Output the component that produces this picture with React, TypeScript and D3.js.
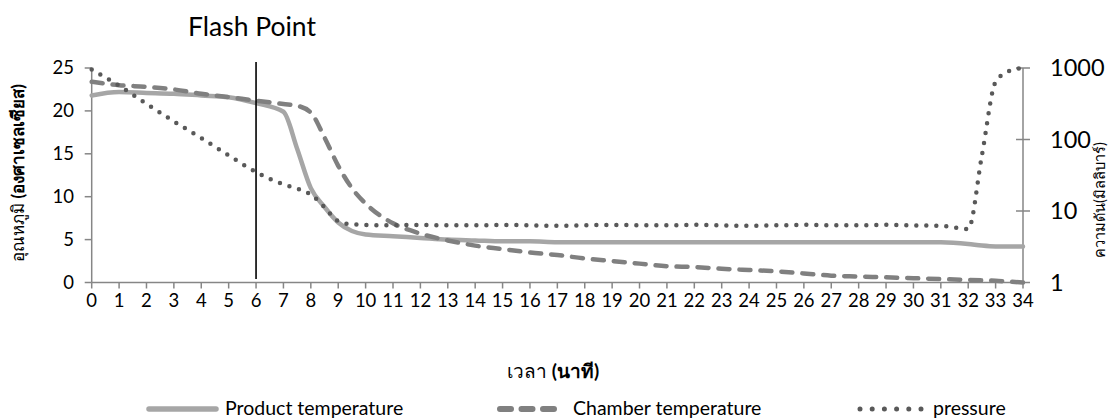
import React, { useEffect, useRef } from 'react';
import * as d3 from 'd3';

// time in minutes (half steps where the curves turn fast)
const times = [0, 1, 2, 3, 4, 5, 6, 7, 7.5, 8, 8.5, 9, 9.5, 10, 11, 12, 13, 14, 15, 16, 17, 18, 19, 20, 21, 22, 23, 24, 25, 26, 27, 28, 29, 30, 31, 32, 32.5, 33, 33.5, 34];
const productTemp = [21.8, 22.2, 22.1, 22.0, 21.8, 21.6, 20.9, 19.9, 15.6, 11.0, 8.8, 7.0, 6.0, 5.6, 5.4, 5.2, 5.0, 4.9, 4.8, 4.8, 4.7, 4.7, 4.7, 4.7, 4.7, 4.7, 4.7, 4.7, 4.7, 4.7, 4.7, 4.7, 4.7, 4.7, 4.7, 4.5, 4.3, 4.2, 4.2, 4.2];
const chamberTemp = [23.4, 23.0, 22.8, 22.5, 22.0, 21.6, 21.2, 20.8, 20.6, 19.8, 16.9, 13.6, 11.0, 9.2, 6.9, 5.7, 4.9, 4.3, 3.9, 3.5, 3.2, 2.8, 2.5, 2.2, 1.9, 1.8, 1.6, 1.45, 1.3, 1.05, 0.8, 0.7, 0.6, 0.5, 0.4, 0.3, 0.25, 0.2, 0.1, 0.0];
const pressure = [950, 565, 316, 179, 105, 60, 35, 23.6, 20.6, 17, 11.3, 7.2, 6.5, 6.4, 6.3, 6.4, 6.3, 6.3, 6.4, 6.3, 6.2, 6.3, 6.4, 6.3, 6.3, 6.4, 6.3, 6.2, 6.3, 6.4, 6.3, 6.3, 6.4, 6.3, 6.2, 5.6, 60, 640, 910, 1000];

const xTicks = d3.range(0, 35);
const tempTicks = [0, 5, 10, 15, 20, 25];
const pressureTicks = [1, 10, 100, 1000];
const flashPoint = 6;

const leftTitle = ['อุณหภูมิ ', '(องศาเซลเซียส)'];
const rightTitle = 'ความดัน(มิลลิบาร์)';
const bottomTitle = ['เวลา ', '(นาที)'];
const legendNames = ['Product temperature', 'Chamber temperature', 'pressure'];

const W = 1116;
const H = 420;
const FONT = "Lato, 'Noto Sans', 'DejaVu Sans', sans-serif";

export default function App() {
  const svgRef = useRef<SVGSVGElement>(null);

  useEffect(() => {
    const svg = d3.select(svgRef.current);
    svg.selectAll('*').remove();

    const x = d3.scaleLinear().domain([0, 34]).range([91.7, 1023]);
    const yL = d3.scaleLinear().domain([0, 25]).range([282.5, 68]);
    const yR = d3.scaleLog().domain([1, 1000]).range([282.5, 68]);
    const axisColor = '#868686';

    // axes
    const g = svg.append('g').style('font-family', FONT);
    g.append('line').attr('x1', x(0)).attr('x2', x(0)).attr('y1', yL(25)).attr('y2', yL(0))
      .attr('stroke', axisColor).attr('stroke-width', 1.5);
    g.append('line').attr('x1', x(34)).attr('x2', x(34)).attr('y1', yR(1000)).attr('y2', yR(1))
      .attr('stroke', axisColor).attr('stroke-width', 1.5);
    g.append('line').attr('x1', x(0)).attr('x2', x(34)).attr('y1', yL(0)).attr('y2', yL(0))
      .attr('stroke', axisColor).attr('stroke-width', 1.5);

    g.selectAll('.tl').data(tempTicks).join('line')
      .attr('x1', x(0) - 7).attr('x2', x(0)).attr('y1', d => yL(d)).attr('y2', d => yL(d))
      .attr('stroke', axisColor).attr('stroke-width', 1.5);
    g.selectAll('.tlt').data(tempTicks).join('text')
      .attr('x', 74).attr('y', d => yL(d)).attr('dy', '0.35em').attr('text-anchor', 'end')
      .attr('font-size', 18.5).attr('fill', '#000').text(d => d);

    g.selectAll('.tr').data(pressureTicks).join('line')
      .attr('x1', x(34) - 7).attr('x2', x(34) + 7).attr('y1', d => yR(d)).attr('y2', d => yR(d))
      .attr('stroke', axisColor).attr('stroke-width', 1.5);
    g.selectAll('.trt').data(pressureTicks).join('text')
      .attr('x', 1050).attr('y', d => yR(d)).attr('dy', '0.35em')
      .attr('font-size', 23.5).attr('fill', '#000').text(d => d);

    g.selectAll('.tb').data(xTicks).join('line')
      .attr('x1', d => x(d)).attr('x2', d => x(d)).attr('y1', yL(0)).attr('y2', yL(0) + 6)
      .attr('stroke', axisColor).attr('stroke-width', 1.5);
    g.selectAll('.tbt').data(xTicks).join('text')
      .attr('x', d => x(d)).attr('y', 307).attr('text-anchor', 'middle')
      .attr('font-size', 18.5).attr('fill', '#000').text(d => d);

    // axis titles
    const lt = g.append('text').attr('transform', 'translate(24,173) rotate(-90)')
      .attr('text-anchor', 'middle').attr('font-size', 17).attr('fill', '#000');
    lt.append('tspan').text(leftTitle[0]);
    lt.append('tspan').attr('font-weight', 'bold').text(leftTitle[1]);

    g.append('text').attr('transform', 'translate(1105,200) rotate(-90)')
      .attr('text-anchor', 'middle').attr('font-size', 14.5).attr('fill', '#000').text(rightTitle);

    const bt = g.append('text').attr('x', 553).attr('y', 378)
      .attr('text-anchor', 'middle').attr('font-size', 19).attr('fill', '#000');
    bt.append('tspan').text(bottomTitle[0]);
    bt.append('tspan').attr('font-weight', 'bold').text(bottomTitle[1]);

    // series
    const idx = d3.range(times.length);
    const leftLine = (vals: number[]) => d3.line<number>()
      .x(i => x(times[i])).y(i => yL(vals[i])).curve(d3.curveMonotoneX)(idx);
    const rightLine = d3.line<number>()
      .x(i => x(times[i])).y(i => yR(pressure[i])).curve(d3.curveMonotoneX)(idx);

    const styles = [
      { color: '#a6a6a6', dash: null as string | null },
      { color: '#808080', dash: '11 10' },
      { color: '#595959', dash: '0 10' },
    ];
    const paths = [leftLine(productTemp), leftLine(chamberTemp), rightLine];
    paths.forEach((p, i) => {
      g.append('path').attr('d', p).attr('fill', 'none')
        .attr('stroke', styles[i].color).attr('stroke-width', 4.5)
        .attr('stroke-linecap', 'round').attr('stroke-linejoin', 'round')
        .attr('stroke-dasharray', styles[i].dash);
    });

    // flash point marker
    g.append('line').attr('x1', x(flashPoint)).attr('x2', x(flashPoint)).attr('y1', 62).attr('y2', 279)
      .attr('stroke', '#000').attr('stroke-width', 1.6);
    g.append('text').attr('x', 188).attr('y', 36).attr('font-size', 26.5).attr('fill', '#000').text('Flash Point');

    // legend
    const legendItems = [
      { x1: 149, x2: 216, tx: 225, dash: null as string | null, w: 5.5 },
      { x1: 500, x2: 555, tx: 573, dash: '11 10.5', w: 6 },
      { x1: 860, x2: 921, tx: 933, dash: '0 12.2', w: 5 },
    ];
    legendItems.forEach((it, i) => {
      g.append('line').attr('x1', it.x1).attr('x2', it.x2).attr('y1', 409).attr('y2', 409)
        .attr('stroke', styles[i].color).attr('stroke-width', it.w).attr('stroke-linecap', 'round')
        .attr('stroke-dasharray', it.dash);
      g.append('text').attr('x', it.tx).attr('y', 415).attr('font-size', 19.5).attr('fill', '#000').text(legendNames[i]);
    });
  }, []);

  return (
    <svg ref={svgRef} width={W} height={H}
      style={{ position: 'absolute', left: 0, top: 0, background: '#fff' }} />
  );
}
